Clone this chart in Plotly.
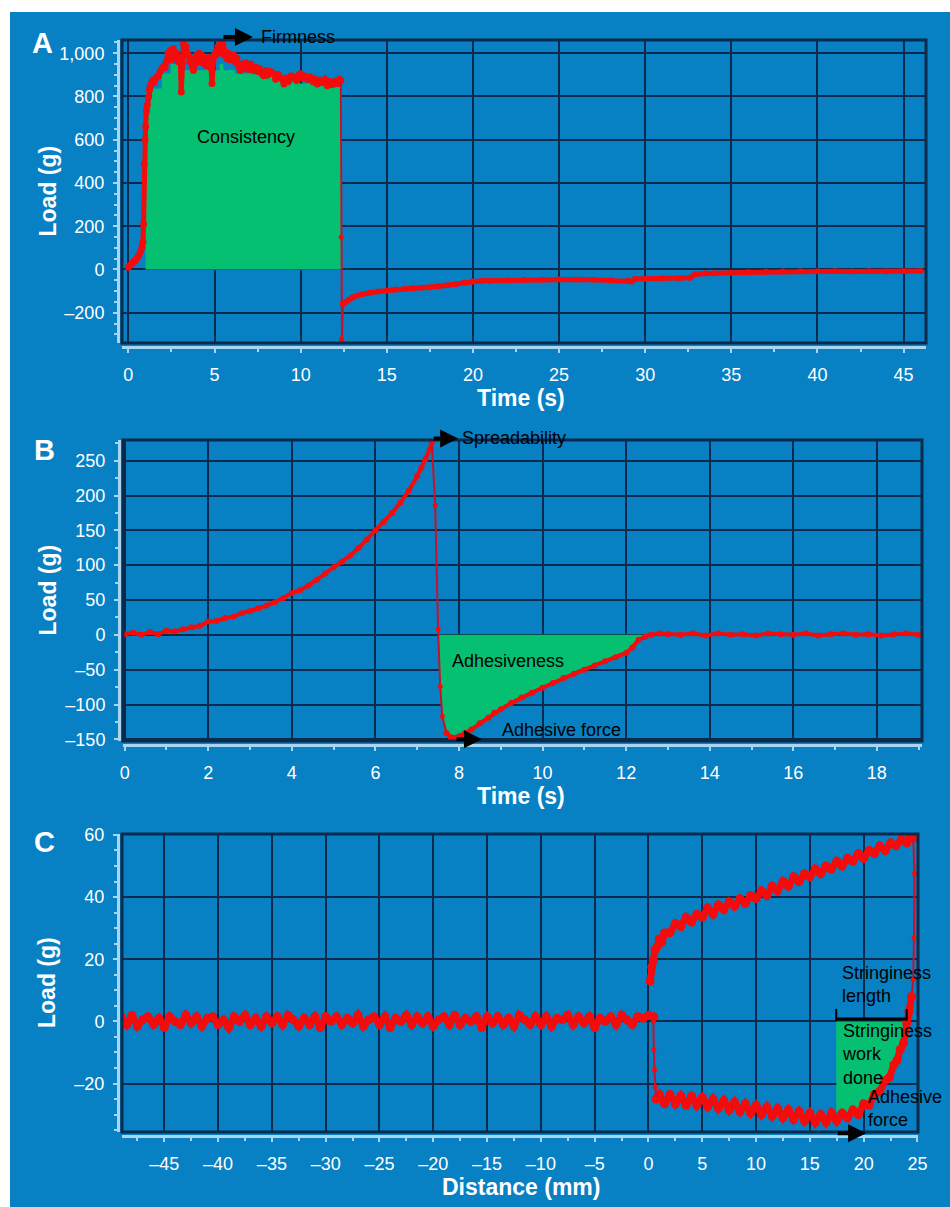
import plotly.graph_objects as go

W, H = 950, 1207
BLUE = "#0880C4"
GRID = "#0C2A4C"
AXL = "#A6D6F0"
RED = "#F40B0B"
DRED = "#C8102E"
GREEN = "#06C072"
FONT = "Liberation Sans, Arial, sans-serif"

# ---------------- Panel A : Load (g) vs Time (s) ----------------
A_LOAD_X = [0.0, 0.1, 0.2, 0.3, 0.4, 0.5, 0.6, 0.7, 0.78, 0.84,
            0.88, 0.92, 0.97, 1.0, 1.05, 1.1, 1.16, 1.22, 1.26, 1.32,
            1.4, 1.48, 1.55, 1.65, 1.75, 1.85, 1.95, 2.05, 2.13, 2.2,
            2.3, 2.36, 2.43, 2.5, 2.6, 2.72, 2.8, 2.9, 3.0, 3.07,
            3.12, 3.2, 3.28, 3.35, 3.42, 3.49, 3.56, 3.64, 3.72, 3.78,
            3.86, 3.95, 4.03, 4.1, 4.17, 4.25, 4.32, 4.4, 4.48, 4.56,
            4.64, 4.72, 4.8, 4.85, 4.9, 4.98, 5.05, 5.12, 5.2, 5.28,
            5.34, 5.42, 5.48, 5.53, 5.6, 5.67, 5.73, 5.8, 5.9, 6.0,
            6.12, 6.2, 6.3, 6.4, 6.5, 6.6, 6.7, 6.8, 6.89, 7.0,
            7.1, 7.2, 7.28, 7.4, 7.5, 7.6, 7.75, 7.86, 8.0, 8.1,
            8.25, 8.44, 8.55, 8.7, 8.85, 9.03, 9.15, 9.3, 9.45, 9.61,
            9.75, 9.9, 10.0, 10.1, 10.25, 10.4, 10.55, 10.7, 10.85, 10.97,
            11.1, 11.25, 11.4, 11.55, 11.7, 11.8, 11.94, 12.05, 12.15, 12.25,
            12.33]
A_LOAD_Y = [10, 20, 27, 34, 42, 52, 65, 82, 100, 126,
            210, 488, 600, 660, 734, 760, 796, 830, 842, 860,
            873, 865, 880, 890, 896, 915, 930, 940, 935, 960,
            1000, 985, 1012, 970, 1020, 989, 1000, 960, 980, 821,
            950, 1042, 1010, 1030, 1000, 989, 960, 975, 940, 920,
            950, 990, 960, 1000, 970, 990, 955, 975, 945, 943,
            980, 950, 930, 860, 960, 990, 990, 1010, 1030, 1000,
            1050, 1010, 1040, 1020, 990, 1000, 974, 1000, 970, 985,
            990, 960, 975, 940, 920, 950, 930, 955, 945, 925,
            950, 930, 920, 935, 915, 930, 905, 896, 920, 900,
            915, 905, 880, 900, 885, 858, 885, 870, 895, 888,
            875, 900, 905, 885, 895, 880, 890, 870, 880, 858,
            875, 865, 880, 850, 870, 855, 858, 870, 862, 880,
            874]
A_DROP_X = [12.33, 12.35, 12.37, 12.40, 12.45]
A_DROP_Y = [874, 150, -320, -330, -160]
A_REC_X = [12.45, 12.6, 12.8, 13.0, 13.3, 13.6, 14.0, 14.5, 15.0, 15.5,
           16.0, 16.5, 17.0, 17.5, 18.0, 18.5, 19.0, 19.5, 20.0, 20.5,
           21.0, 22.0, 23.0, 24.0, 25.0, 26.0, 27.0, 28.0, 29.0, 29.2,
           29.4, 30.0, 31.0, 32.0, 32.6, 32.9, 33.5, 34.0, 35.0, 36.0,
           37.0, 38.0, 39.0, 40.0, 41.0, 42.0, 43.0, 44.0, 45.0, 46.0]
A_REC_Y = [-160, -150, -140, -130, -120, -113, -108, -102, -97, -93,
           -90, -87, -85, -83, -78, -73, -68, -60, -55, -52,
           -52, -50, -48, -47, -45, -46, -48, -50, -52, -56,
           -44, -43, -42, -41, -38, -22, -18, -17, -15, -13,
           -11, -9, -8, -8, -8, -9, -8, -9, -8, -7]
A_CONS_X = [1.0, 1.1, 1.2, 1.36, 1.94, 2.45, 3.04, 3.12, 4.82, 4.9,
            5.3, 5.5, 6.2, 7.6, 8.6, 9.7, 10.6, 11.4, 12.35]
A_CONS_Y = [650, 720, 790, 837, 906, 950, 821, 921, 860, 921,
            950, 921, 906, 898, 875, 860, 850, 844, 844]
A_XTICKS = [0, 5, 10, 15, 20, 25, 30, 35, 40, 45]
A_XLABELS = ["0", "5", "10", "15", "20", "25", "30", "35", "40", "45"]
A_YTICKS = [-200, 0, 200, 400, 600, 800, 1000]
A_YLABELS = ["\u2013200", "0", "200", "400", "600", "800", "1,000"]

# ---------------- Panel B ----------------
B_LOAD_X = [0.0, 0.2, 0.4, 0.6, 0.8, 1.0, 1.2, 1.4, 1.6, 1.8,
            2.0, 2.2, 2.4, 2.6, 2.8, 3.0, 3.2, 3.4, 3.6, 3.8,
            4.0, 4.2, 4.4, 4.6, 4.8, 5.0, 5.2, 5.4, 5.6, 5.8,
            6.0, 6.2, 6.4, 6.6, 6.8, 7.0, 7.1, 7.2, 7.3, 7.35]
B_LOAD_Y = [1, 3, 0, 4, 1, 6, 5, 8, 11, 13,
            19, 20, 24, 26, 31, 34, 38, 42, 47, 53,
            60, 64, 71, 79, 88, 97, 105, 114, 125, 137,
            150, 162, 175, 190, 207, 228, 240, 252, 266, 276]
B_DROP_X = [7.35, 7.43, 7.5, 7.55, 7.6, 7.7]
B_DROP_Y = [276, 186, 8, -74, -117, -141]
B_REC_X = [7.7, 7.8, 7.9, 8.0, 8.15, 8.3, 8.5, 8.7, 8.85, 9.0,
           9.25, 9.5, 9.75, 10.0, 10.25, 10.5, 10.75, 11.0, 11.25, 11.5,
           11.75, 12.0, 12.15, 12.3, 12.45, 12.6, 12.8, 13.0, 13.3, 13.6,
           13.9, 14.2, 14.5, 14.8, 15.1, 15.4, 15.7, 16.0, 16.3, 16.6,
           16.9, 17.2, 17.5, 17.8, 18.1, 18.4, 18.7, 19.0]
B_REC_Y = [-141, -147, -148, -146, -141, -136, -127, -119, -112, -107,
           -98, -90, -83, -76, -69, -62, -56, -50, -44, -38,
           -32, -26, -18, -7, -3, 0, 2, 1, 0, 2,
           -1, 2, 0, 1, -1, 2, 1, 0, 2, -1,
           1, 2, 0, 1, -1, 1, 2, 0]
B_ADH_X = [7.52, 7.56, 7.62, 7.7, 7.8, 7.9, 8.0, 8.15, 8.3, 8.5,
           8.7, 8.85, 9.0, 9.25, 9.5, 9.75, 10.0, 10.25, 10.5, 10.75,
           11.0, 11.25, 11.5, 11.75, 12.0, 12.15, 12.3, 12.45]
B_ADH_Y = [-60, -95, -125, -138, -143, -144, -142, -138, -133, -124,
           -116, -109, -104, -95, -87, -80, -73, -66, -59, -53,
           -47, -41, -35, -29, -23, -15, -5, 0]
B_XTICKS = [0, 2, 4, 6, 8, 10, 12, 14, 16, 18]
B_XLABELS = ["0", "2", "4", "6", "8", "10", "12", "14", "16", "18"]
B_YTICKS = [-150, -100, -50, 0, 50, 100, 150, 200, 250]
B_YLABELS = ["\u2013150", "\u2013100", "\u201350", "0", "50", "100", "150", "200", "250"]

# ---------------- Panel C : Load (g) vs Distance (mm) ----------------
C_BASE_X = [-49.0, -48.5, -48.0, -47.5, -47.0, -46.5, -46.0, -45.5, -45.0, -44.5,
            -44.0, -43.5, -43.0, -42.5, -42.0, -41.5, -41.0, -40.5, -40.0, -39.5,
            -39.0, -38.5, -38.0, -37.5, -37.0, -36.5, -36.0, -35.5, -35.0, -34.5,
            -34.0, -33.5, -33.0, -32.5, -32.0, -31.5, -31.0, -30.5, -30.0, -29.5,
            -29.0, -28.5, -28.0, -27.5, -27.0, -26.5, -26.0, -25.5, -25.0, -24.5,
            -24.0, -23.5, -23.0, -22.5, -22.0, -21.5, -21.0, -20.5, -20.0, -19.5,
            -19.0, -18.5, -18.0, -17.5, -17.0, -16.5, -16.0, -15.5, -15.0, -14.5,
            -14.0, -13.5, -13.0, -12.5, -12.0, -11.5, -11.0, -10.5, -10.0, -9.5,
            -9.0, -8.5, -8.0, -7.5, -7.0, -6.5, -6.0, -5.5, -5.0, -4.5,
            -4.0, -3.5, -3.0, -2.5, -2.0, -1.5, -1.0, -0.5, 0.0, 0.5]
C_BASE_Y = [1.5, -1.0, 2.0, -1.5, 0.5, 1.5, -1.0, 1.0, -2.0, 1.5,
            0.0, -1.0, 2.0, -0.5, 1.5, -1.5, 1.0, 1.5, -1.0, 0.5,
            -2.0, 1.5, 0.0, 2.0, -1.0, 1.0, -1.5, 1.5, -0.5, 1.5,
            -1.0, 2.0, 0.5, -1.5, 1.0, -1.0, 1.5, -2.0, 1.5, 0.0,
            1.5, -1.0, 1.0, -0.5, 2.0, -1.5, 0.5, 1.5, -1.0, 1.5,
            -2.0, 1.0, 0.0, 2.0, -1.0, 1.5, -0.5, 1.5, -1.5, 0.5,
            1.5, -1.0, 2.0, -1.0, 1.0, 0.0, 1.5, -2.0, 1.5, -0.5,
            1.5, -1.0, 1.0, -1.5, 2.0, 0.5, -1.0, 1.5, -1.0, 1.5,
            -1.5, 1.0, 0.5, 2.0, -1.0, 1.5, -0.5, 1.5, -2.0, 1.0,
            0.0, 1.5, -1.0, 2.0, 0.5, -1.0, 1.5, 1.0, 2.0, 1.5]
C_UP_X = [0.15, 0.3, 0.45, 0.6, 0.8, 1.0, 1.25, 1.5, 2.0, 2.5,
          3.0, 3.5, 4.0, 4.5, 5.0, 5.5, 6.0, 6.5, 7.0, 7.5,
          8.0, 8.5, 9.0, 9.5, 10.0, 10.5, 11.0, 11.5, 12.0, 12.5,
          13.0, 13.5, 14.0, 14.5, 15.0, 15.5, 16.0, 16.5, 17.0, 17.5,
          18.0, 18.5, 19.0, 19.5, 20.0, 20.5, 21.0, 21.5, 22.0, 22.5,
          23.0, 23.5, 24.0, 24.3, 24.6]
C_UP_Y = [13, 17.5, 19.5, 23, 24, 26.5, 25.5, 28.5, 28.5, 31.5,
          30.5, 33.5, 32, 34.5, 33.5, 36.5, 34.5, 37.5, 36, 38.5,
          37, 39.5, 38, 40.5, 39.5, 42, 40.5, 43.5, 42, 45,
          43.5, 46.5, 45, 47.5, 46.5, 49, 47.5, 50, 49, 51.5,
          50, 52.5, 51.5, 54, 52.5, 55, 54, 56.5, 55, 57.5,
          56.5, 58.5, 57.5, 59.5, 59]
C_DROP_X = [24.6, 24.72, 24.68, 24.6, 24.45]
C_DROP_Y = [59, 47.7, 26.8, 13.4, 8]
C_BACK_X = [24.45, 24.2, 24.0, 23.7, 23.4, 23.1, 22.8, 22.4, 22.0, 21.5,
            21.0, 20.5, 20.0, 19.5, 19.0, 18.5, 18.0, 17.5, 17.0, 16.5,
            16.0, 15.5, 15.0, 14.5, 14.0, 13.5, 13.0, 12.5, 12.0, 11.5,
            11.0, 10.5, 10.0, 9.5, 9.0, 8.5, 8.0, 7.5, 7.0, 6.5,
            6.0, 5.5, 5.0, 4.5, 4.0, 3.5, 3.0, 2.5, 2.0, 1.5,
            1.0, 0.7]
C_BACK_Y = [8, 3, -0.5, -7, -9, -12.5, -14, -18, -19, -22.5,
            -23.5, -27, -26.5, -30, -28.5, -31, -29.5, -32, -29.5, -32.5,
            -30, -32.5, -29.5, -32, -29, -31.5, -28.5, -31, -28, -30.5,
            -27.5, -30, -27, -29.5, -26.5, -29, -26, -28.5, -25.5, -28,
            -25, -27.5, -24.5, -27, -24, -27, -24, -26.5, -23.5, -26.5,
            -23.5, -25]
C_RISE_X = [0.7, 0.62, 0.56, 0.5, 0.45]
C_RISE_Y = [-25, -21, -15.5, -9, 0]
C_STR_X = [17.45, 18.0, 18.7, 19.5, 20.3, 20.8, 21.5, 22.4, 23.1, 23.7, 24.0]
C_STR_Y = [-29, -29.5, -29.5, -28.5, -26.5, -24.5, -21.5, -17, -12, -6.5, 0]
C_XTICKS = [-45, -40, -35, -30, -25, -20, -15, -10, -5, 0, 5, 10, 15, 20, 25]
C_XLABELS = ["\u201345", "\u201340", "\u201335", "\u201330", "\u201325", "\u201320",
             "\u201315", "\u201310", "\u20135", "0", "5", "10", "15", "20", "25"]
C_YTICKS = [-20, 0, 20, 40, 60]
C_YLABELS = ["\u201320", "0", "20", "40", "60"]

# ---------------- layout geometry (pixels) ----------------
PANELS = {
    1: dict(px=(122, 926, 40, 343), xr=[-0.37, 46.3], yr=[-340, 1061],
            xt=(A_XTICKS, A_XLABELS), yt=(A_YTICKS, A_YLABELS), xm=2.5, ym=50),
    2: dict(px=(123, 922, 440, 741), xr=[-0.04, 19.08], yr=[-152.4, 279.7],
            xt=(B_XTICKS, B_XLABELS), yt=(B_YTICKS, B_YLABELS), xm=1, ym=25),
    3: dict(px=(122, 918, 834, 1132), xr=[-48.93, 25.05], yr=[-35.6, 60.3],
            xt=(C_XTICKS, C_XLABELS), yt=(C_YTICKS, C_YLABELS), xm=2.5, ym=5),
}

fig = go.Figure()


def ax_ids(n):
    s = "" if n == 1 else str(n)
    return "x" + s, "y" + s


def add_line(n, xs, ys, width, color, msize):
    xa, ya = ax_ids(n)
    fig.add_trace(go.Scatter(
        x=xs, y=ys, xaxis=xa, yaxis=ya, mode="lines+markers",
        line=dict(color=color, width=width),
        marker=dict(color=RED, size=msize),
        hoverinfo="skip", cliponaxis=True))


def add_area(n, xs, ys, shape="linear"):
    xa, ya = ax_ids(n)
    fig.add_trace(go.Scatter(
        x=xs, y=ys, xaxis=xa, yaxis=ya, mode="lines",
        line=dict(color=GREEN, width=0, shape=shape),
        fill="tozeroy", fillcolor=GREEN, hoverinfo="skip"))


# Panel A
add_area(1, A_CONS_X, A_CONS_Y, shape="hv")
add_line(1, A_LOAD_X, A_LOAD_Y, 5, RED, 7)
add_line(1, A_DROP_X, A_DROP_Y, 2, DRED, 5)
add_line(1, A_REC_X, A_REC_Y, 5, RED, 6)
# Panel B
add_area(2, B_ADH_X, B_ADH_Y)
add_line(2, B_LOAD_X, B_LOAD_Y, 4, RED, 6)
add_line(2, B_DROP_X, B_DROP_Y, 2, DRED, 5)
add_line(2, B_REC_X, B_REC_Y, 4, RED, 6)
# Panel C
add_area(3, C_STR_X, C_STR_Y)
add_line(3, C_BASE_X, C_BASE_Y, 7, RED, 9)
add_line(3, C_UP_X, C_UP_Y, 7, RED, 9)
add_line(3, C_DROP_X, C_DROP_Y, 2, DRED, 5)
add_line(3, C_BACK_X, C_BACK_Y, 7, RED, 9)
add_line(3, C_RISE_X, C_RISE_Y, 2, DRED, 5)

shapes = [dict(type="rect", xref="paper", yref="paper", x0=10 / W, x1=1, y0=0, y1=1 - 12 / H,
               fillcolor=BLUE, line=dict(width=0), layer="below")]
layout_axes = {}
for n, p in PANELS.items():
    x0, x1, y0, y1 = p["px"]
    s = "" if n == 1 else str(n)
    common = dict(showgrid=True, gridcolor=GRID, gridwidth=2, zeroline=False,
                  showline=True, linecolor=AXL, linewidth=3,
                  ticks="outside", ticklen=4, tickwidth=2, tickcolor=AXL,
                  tickfont=dict(family=FONT, size=18, color="white"),
                  tickmode="array", fixedrange=True, anchor="free", automargin=False)
    layout_axes["xaxis" + s] = dict(
        domain=[x0 / W, x1 / W], range=p["xr"], tickvals=p["xt"][0], ticktext=p["xt"][1],
        position=1 - (y1 + 4) / H, ticklabelstandoff=6,
        minor=dict(ticks="outside", ticklen=3, tickwidth=2, tickcolor=AXL, dtick=p["xm"], showgrid=False),
        **common)
    layout_axes["yaxis" + s] = dict(
        domain=[1 - y1 / H, 1 - y0 / H], range=p["yr"], tickvals=p["yt"][0], ticktext=p["yt"][1],
        position=(x0 - 4) / W, ticklabelstandoff=5,
        minor=dict(ticks="outside", ticklen=3, tickwidth=2, tickcolor=AXL, dtick=p["ym"], showgrid=False),
        **common)
    shapes.append(dict(type="rect", xref="x" + s + " domain", yref="y" + s + " domain",
                       x0=0, x1=1, y0=0, y1=1, line=dict(color=GRID, width=3)))


def dom(n, xv, yv):
    """data value -> axis-domain fraction (lets notes sit just outside the range)"""
    p = PANELS[n]
    fx = (xv - p["xr"][0]) / (p["xr"][1] - p["xr"][0])
    fy = (yv - p["yr"][0]) / (p["yr"][1] - p["yr"][0])
    return fx, fy


# Stringiness length bar (panel C)
STR_BAR = dict(x0=17.45, x1=24.0, y=0.8, cap=3.2)
shapes.append(dict(type="line", xref="x3", yref="y3", x0=STR_BAR["x0"], x1=STR_BAR["x1"],
                   y0=STR_BAR["y"], y1=STR_BAR["y"], line=dict(color="black", width=3)))
for xc in (STR_BAR["x0"], STR_BAR["x1"]):
    shapes.append(dict(type="line", xref="x3", yref="y3", x0=xc, x1=xc,
                       y0=STR_BAR["y"] - 0.6, y1=STR_BAR["y"] + STR_BAR["cap"],
                       line=dict(color="black", width=2)))

ann = []


def txt(text, x, y, xref, yref, size=18, color="black", bold=False, xanchor="center",
        yanchor="middle", angle=0, align="left"):
    ann.append(dict(text=("<b>%s</b>" % text) if bold else text, x=x, y=y, xref=xref, yref=yref,
                    showarrow=False, xanchor=xanchor, yanchor=yanchor, textangle=angle, align=align,
                    font=dict(family=FONT, size=size, color=color)))


def note(n, text, xv, yv, **kw):
    s = "" if n == 1 else str(n)
    fx, fy = dom(n, xv, yv)
    txt(text, fx, fy, "x" + s + " domain", "y" + s + " domain", **kw)


def arrow(n, xv, yv, length):
    s = "" if n == 1 else str(n)
    fx, fy = dom(n, xv, yv)
    ann.append(dict(text="", x=fx, y=fy, xref="x" + s + " domain", yref="y" + s + " domain",
                    ax=-length, ay=0, showarrow=True, arrowhead=2, arrowsize=0.9,
                    arrowwidth=4, arrowcolor="black"))


# panel letters and axis titles
for letter, (px_x, px_y) in zip("ABC", [(42, 43), (44, 450), (44, 842)]):
    txt(letter, px_x / W, 1 - px_y / H, "paper", "paper", size=29, color="white", bold=True)
for n, title in zip((1, 2, 3), ("Time (s)", "Time (s)", "Distance (mm)")):
    x0, x1, y0, y1 = PANELS[n]["px"]
    txt(title, 521 / W, 1 - (y1 + 55) / H, "paper", "paper", size=23, color="white", bold=True)
    txt("Load (g)", 47 / W, 1 - (y0 + y1) / 2 / H, "paper", "paper", size=23, color="white",
        bold=True, angle=-90)

# Panel A notes
arrow(1, 7.23, 1075, 31)
note(1, "Firmness", 7.6, 1075, xanchor="left")
note(1, "Consistency", 6.84, 612)
# Panel B notes
arrow(2, 7.98, 282, 26)
note(2, "Spreadability", 8.03, 282, xanchor="left")
note(2, "Adhesiveness", 9.17, -37)
arrow(2, 8.55, -150, 27)
note(2, "Adhesive force", 8.98, -136, xanchor="left")
# Panel C notes
note(3, "Stringiness<br>length", 17.8, 11.8, xanchor="left")
note(3, "Stringiness<br>work<br>done", 17.8, -10.7, xanchor="left")
note(3, "Adhesive<br>force", 20.2, -27.9, xanchor="left")
arrow(3, 20.23, -36.0, 30)

fig.update_layout(template="none", width=W, height=H, autosize=False,
                  margin=dict(l=0, r=0, t=0, b=0, pad=0),
                  paper_bgcolor="white", plot_bgcolor=BLUE, showlegend=False,
                  font=dict(family=FONT, color="white", size=18),
                  shapes=shapes, annotations=ann, **layout_axes)
fig.write_html("out.html", config={"displayModeBar": False},
               post_script="document.body.style.margin='0';document.body.style.overflow='hidden';")
